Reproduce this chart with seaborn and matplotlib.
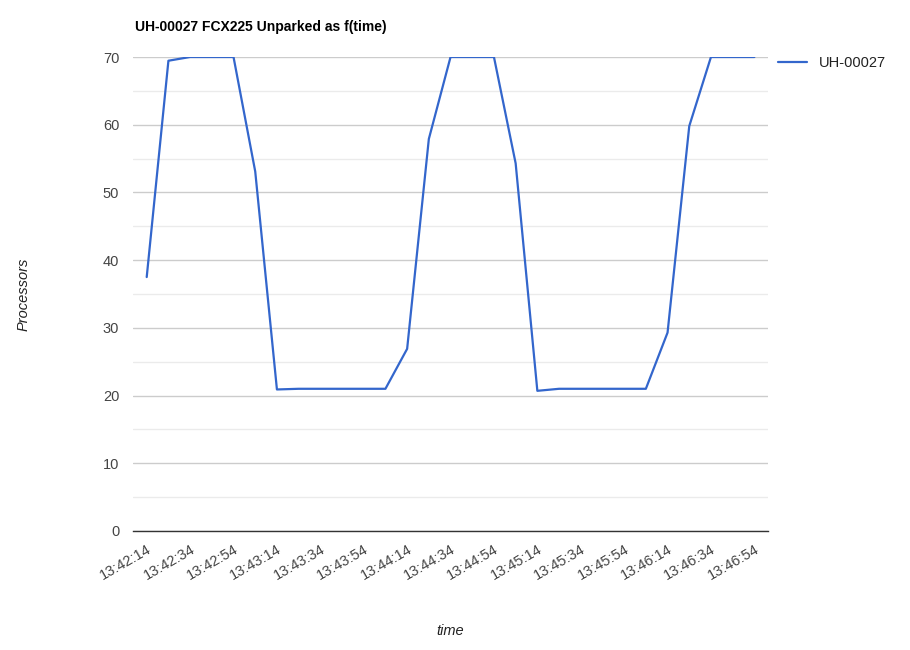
#!/usr/bin/env python3

import seaborn as sns
import pandas as pd
import matplotlib.pyplot as plt
from matplotlib.dates import DateFormatter
from matplotlib.ticker import MultipleLocator

# samples every 10 s
times = ['13:42:14', '13:42:24', '13:42:34', '13:42:44', '13:42:54', '13:43:04',
         '13:43:14', '13:43:24', '13:43:34', '13:43:44', '13:43:54', '13:44:04',
         '13:44:14', '13:44:24', '13:44:34', '13:44:44', '13:44:54', '13:45:04',
         '13:45:14', '13:45:24', '13:45:34', '13:45:44', '13:45:54', '13:46:04',
         '13:46:14', '13:46:24', '13:46:34', '13:46:44', '13:46:54']
unparked = [37.5, 69.45, 70, 70, 70, 53.1,
            20.9, 21, 21, 21, 21, 21,
            26.9, 57.9, 70, 70, 70, 54.3,
            20.7, 21, 21, 21, 21, 21,
            29.3, 59.8, 70, 70, 70]
tick_labels = ['13:42:14', '13:42:34', '13:42:54', '13:43:14', '13:43:34', '13:43:54',
               '13:44:14', '13:44:34', '13:44:54', '13:45:14', '13:45:34', '13:45:54',
               '13:46:14', '13:46:34', '13:46:54']
y_ticks = [0, 10, 20, 30, 40, 50, 60, 70]
series_name = 'UH-00027'

df = pd.DataFrame({'time': pd.to_datetime(['2020-01-01 ' + t for t in times]),
                   series_name: unparked})
tick_pos = pd.to_datetime(['2020-01-01 ' + t for t in tick_labels])

sns.set_theme(style='white')
plt.rcParams['font.family'] = ['Liberation Sans', 'DejaVu Sans']

fig = plt.figure(figsize=(9.1, 6.5), dpi=100)
ax = fig.add_axes([0.1462, 0.1831, 0.6978, 0.7292])

sns.lineplot(x='time', y=series_name, data=df, color='#3366cc', linewidth=1.6,
             label=series_name, ax=ax)

pad = pd.Timedelta(seconds=6.3)
ax.set_xlim(df['time'].iloc[0] - pad, df['time'].iloc[-1] + pad)
ax.set_ylim(0, 70)
ax.set_yticks(y_ticks)
ax.yaxis.set_minor_locator(MultipleLocator(5))
ax.grid(True, which='major', axis='y', color='#cccccc', linewidth=1)
ax.grid(True, which='minor', axis='y', color='#ebebeb', linewidth=1)
ax.set_axisbelow(True)

ax.set_xticks(tick_pos)
ax.xaxis.set_major_formatter(DateFormatter('%H:%M:%S'))
for lbl in ax.get_xticklabels():
    lbl.set_rotation(30)
    lbl.set_ha('right')
    lbl.set_rotation_mode('anchor')

ax.tick_params(axis='both', which='both', length=0, labelsize=10.5, colors='#444444')
ax.tick_params(axis='x', pad=8)
ax.tick_params(axis='y', pad=10)

for side in ['top', 'right', 'left']:
    ax.spines[side].set_visible(False)
ax.spines['bottom'].set_color('#333333')
ax.spines['bottom'].set_linewidth(1)

ax.set_xlabel('time', fontstyle='italic', fontsize=10.5, color='#222222', labelpad=30)
ax.set_ylabel('Processors', fontstyle='italic', fontsize=10.5, color='#222222', labelpad=52)
ax.set_title('UH-00027 FCX225 Unparked as f(time)', loc='left', fontweight='bold',
             fontsize=10, color='#000000', pad=19, x=0.003)

leg = ax.legend(loc='upper left', bbox_to_anchor=(0.995, 1.03), frameon=False,
                fontsize=10.5, handlelength=2.0, labelcolor='#222222')

plt.savefig('out.png', dpi=100, facecolor='white')
plt.close()
